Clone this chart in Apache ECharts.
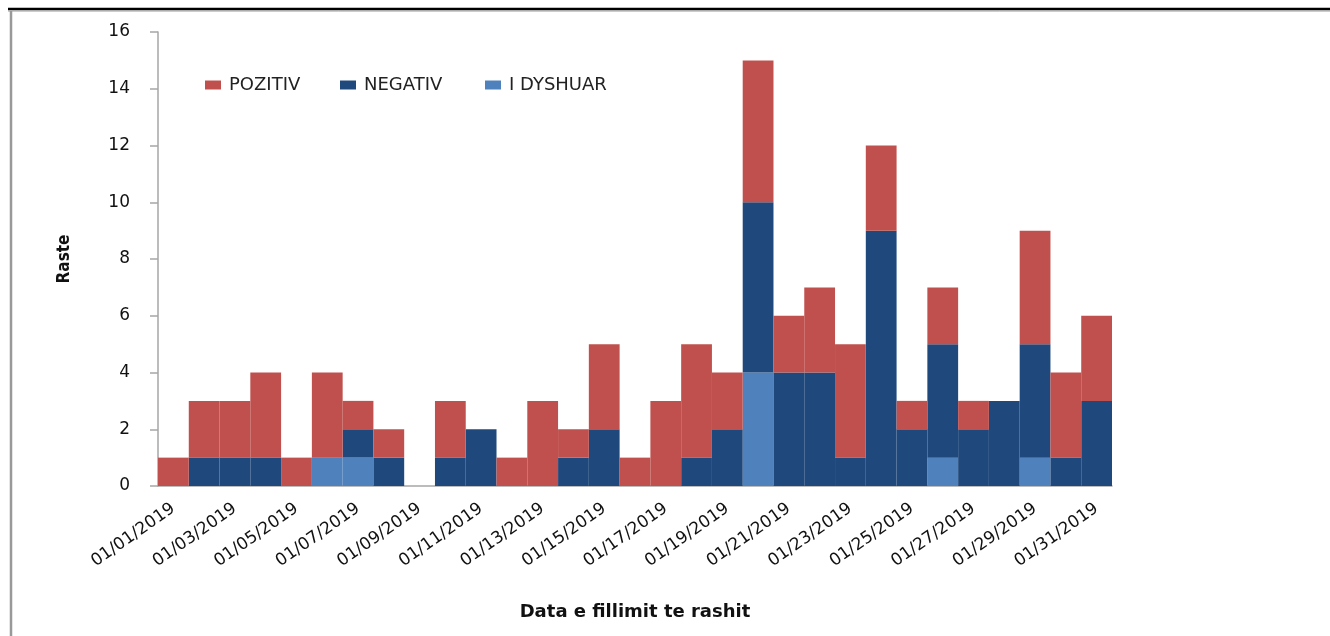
<!DOCTYPE html>
<html>
<head>
<meta charset="utf-8">
<script src="https://cdn.jsdelivr.net/npm/echarts@6/dist/echarts.min.js"></script>
<style>html,body{margin:0;padding:0;background:#fff;}#c{width:1330px;height:636px;}</style>
</head>
<body>
<div id="c"></div>
<script>
const categories = ['01/01/2019','01/02/2019','01/03/2019','01/04/2019','01/05/2019','01/06/2019','01/07/2019','01/08/2019','01/09/2019','01/10/2019','01/11/2019','01/12/2019','01/13/2019','01/14/2019','01/15/2019','01/16/2019','01/17/2019','01/18/2019','01/19/2019','01/20/2019','01/21/2019','01/22/2019','01/23/2019','01/24/2019','01/25/2019','01/26/2019','01/27/2019','01/28/2019','01/29/2019','01/30/2019','01/31/2019'];
const pozitiv  = [1,2,2,3,1,3,1,1,0,2,0,1,3,1,3,1,3,4,2,5,2,3,4,3,1,2,1,0,4,3,3];
const negativ  = [0,1,1,1,0,0,1,1,0,1,2,0,0,1,2,0,0,1,2,6,4,4,1,9,2,4,2,3,4,1,3];
const dyshuar  = [0,0,0,0,0,1,1,0,0,0,0,0,0,0,0,0,0,0,0,4,0,0,0,0,0,1,0,0,1,0,0];
const seriesNames = ['POZITIV','NEGATIV','I DYSHUAR'];

const chart = echarts.init(document.getElementById('c'));
const font = 'DejaVu Sans';
const legendBase = {
  top: 71, itemWidth: 16, itemHeight: 9, itemGap: 0, icon: 'rect',
  textStyle: { fontFamily: font, fontSize: 18, color: '#222', padding: [0,0,0,3] }
};
chart.setOption({
  animation: false,
  backgroundColor: '#fff',
  grid: { left: 158, right: 218, top: 32, bottom: 150, containLabel: false },
  legend: [
    Object.assign({}, legendBase, { data: [seriesNames[0]], left: 200 }),
    Object.assign({}, legendBase, { data: [seriesNames[1]], left: 335 }),
    Object.assign({}, legendBase, { data: [seriesNames[2]], left: 480 })
  ],
  xAxis: {
    type: 'category',
    data: categories,
    boundaryGap: true,
    name: 'Data e fillimit te rashit',
    nameLocation: 'middle',
    nameGap: 117,
    nameTextStyle: { fontFamily: font, fontSize: 18, fontWeight: 'bold', color: '#111' },
    axisLine: { lineStyle: { color: '#a6a6a6', width: 1.5 } },
    axisTick: { interval: 1, length: 6, lineStyle: { color: '#a6a6a6', width: 1.5 } },
    axisLabel: { interval: 1, rotate: 35, fontFamily: font, fontSize: 17, color: '#111', margin: 21 }
  },
  yAxis: {
    type: 'value',
    min: 0, max: 16, interval: 2,
    name: 'Raste',
    nameLocation: 'middle',
    nameGap: 85,
    nameTextStyle: { fontFamily: 'DejaVu Sans Condensed', fontSize: 17, fontWeight: 'bold', color: '#111' },
    splitLine: { show: false },
    axisLine: { show: true, lineStyle: { color: '#a6a6a6', width: 1.5 } },
    axisTick: { show: true, inside: false, length: 8, lineStyle: { color: '#a6a6a6', width: 1.5 } },
    axisLabel: { fontFamily: font, fontSize: 17, color: '#111', margin: 28 }
  },
  series: [
    { name: 'I DYSHUAR', type: 'bar', stack: 's', data: dyshuar, barCategoryGap: '0%', barWidth: '100%', itemStyle: { color: '#4F81BD' } },
    { name: 'NEGATIV', type: 'bar', stack: 's', data: negativ, barCategoryGap: '0%', barWidth: '100%', itemStyle: { color: '#1F497D' } },
    { name: 'POZITIV', type: 'bar', stack: 's', data: pozitiv, barCategoryGap: '0%', barWidth: '100%', itemStyle: { color: '#C0504D' } }
  ],
  graphic: [
    { type: 'line', shape: { x1: 8, y1: 9, x2: 1330, y2: 9 }, style: { stroke: '#000', lineWidth: 2.5 } },
    { type: 'line', shape: { x1: 8, y1: 11, x2: 1330, y2: 11 }, style: { stroke: '#999', lineWidth: 1 } },
    { type: 'line', shape: { x1: 11, y1: 11, x2: 11, y2: 636 }, style: { stroke: '#999', lineWidth: 2.5 } }
  ]
});
</script>
</body>
</html>
